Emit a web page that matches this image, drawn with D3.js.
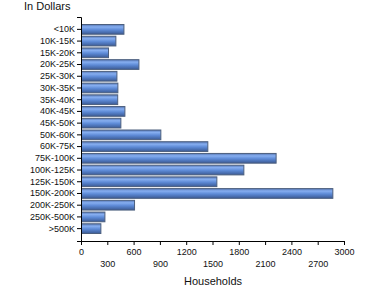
<!DOCTYPE html>
<html lang="en">
<head>
    <meta charset="UTF-8">
    <title>Households by income</title>
    <script src="https://d3js.org/d3.v7.min.js"></script>
    <style>
        body{
            margin: 0;
            background: #fff;
        }
        svg{
            font-family: "Liberation Sans", Arial, sans-serif;
        }
        .axis text{
            font-size: 9px;
            fill: #111;
        }
        .axis path, .axis line{
            stroke: #000;
        }
    </style>
</head>
<body>
<svg></svg>
<script>
    // income brackets and household counts
    const categories = ["<10K","10K-15K","15K-20K","20K-25K","25K-30K","30K-35K","35K-40K","40K-45K","45K-50K",
        "50K-60K","60K-75K","75K-100K","100K-125K","125K-150K","150K-200K","200K-250K","250K-500K",">500K"];
    const households = [484,392,308,655,404,415,413,495,449,905,1441,2220,1852,1544,2867,605,267,221];
    const xTicks = [0,300,600,900,1200,1500,1800,2100,2400,2700,3000];

    const width = 370;
    const height = 300;
    // plot area edges
    const mLeft = 81, mRight = 344, mTop = 17, mBottom = 241;

    const svg = d3.select("svg")
        .attr("width", width)
        .attr("height", height);

    const x = d3.scaleLinear()
        .domain([0, 3000])
        .range([mLeft, mRight]);

    const y = d3.scaleBand()
        .domain(categories)
        .range([mTop, mBottom])
        .paddingInner(0.17)
        .paddingOuter(0.64);

    // bar gradient
    const grad = svg.append("defs").append("linearGradient")
        .attr("id", "barGrad")
        .attr("x1", 0).attr("y1", 0).attr("x2", 0).attr("y2", 1);
    grad.append("stop").attr("offset", "0%").attr("stop-color", "#5576b4");
    grad.append("stop").attr("offset", "25%").attr("stop-color", "#86aef0");
    grad.append("stop").attr("offset", "55%").attr("stop-color", "#5d8ad6");
    grad.append("stop").attr("offset", "100%").attr("stop-color", "#3b5a94");

    svg.append("g")
        .selectAll("rect")
        .data(households)
        .join("rect")
        .attr("x", x(0) + 0.5)
        .attr("y", (d, i) => y(categories[i]))
        .attr("width", d => x(d) - x(0))
        .attr("height", y.bandwidth())
        .attr("fill", "url(#barGrad)")
        .attr("stroke", "#4c5f7e")
        .attr("stroke-width", 1);

    // y axis
    svg.append("g")
        .attr("class", "axis")
        .attr("transform", `translate(${mLeft},0)`)
        .call(d3.axisLeft(y).tickSize(4).tickSizeOuter(4).tickPadding(2));

    // x axis, labels staggered on two rows
    const xAxis = svg.append("g")
        .attr("class", "axis")
        .attr("transform", `translate(0,${mBottom})`)
        .call(d3.axisBottom(x).tickValues(xTicks).tickFormat(d3.format("d"))
            .tickSize(4).tickSizeOuter(4).tickPadding(4));
    xAxis.selectAll(".tick text")
        .attr("dy", (d, i) => i % 2 ? "2.05em" : "0.71em");

    // titles
    svg.append("text")
        .attr("x", 24)
        .attr("y", 10)
        .attr("font-size", 11)
        .attr("fill", "#111")
        .text("In Dollars");

    svg.append("text")
        .attr("x", 213)
        .attr("y", 285)
        .attr("text-anchor", "middle")
        .attr("font-size", 11)
        .attr("fill", "#111")
        .text("Households");
</script>
</body>
</html>
